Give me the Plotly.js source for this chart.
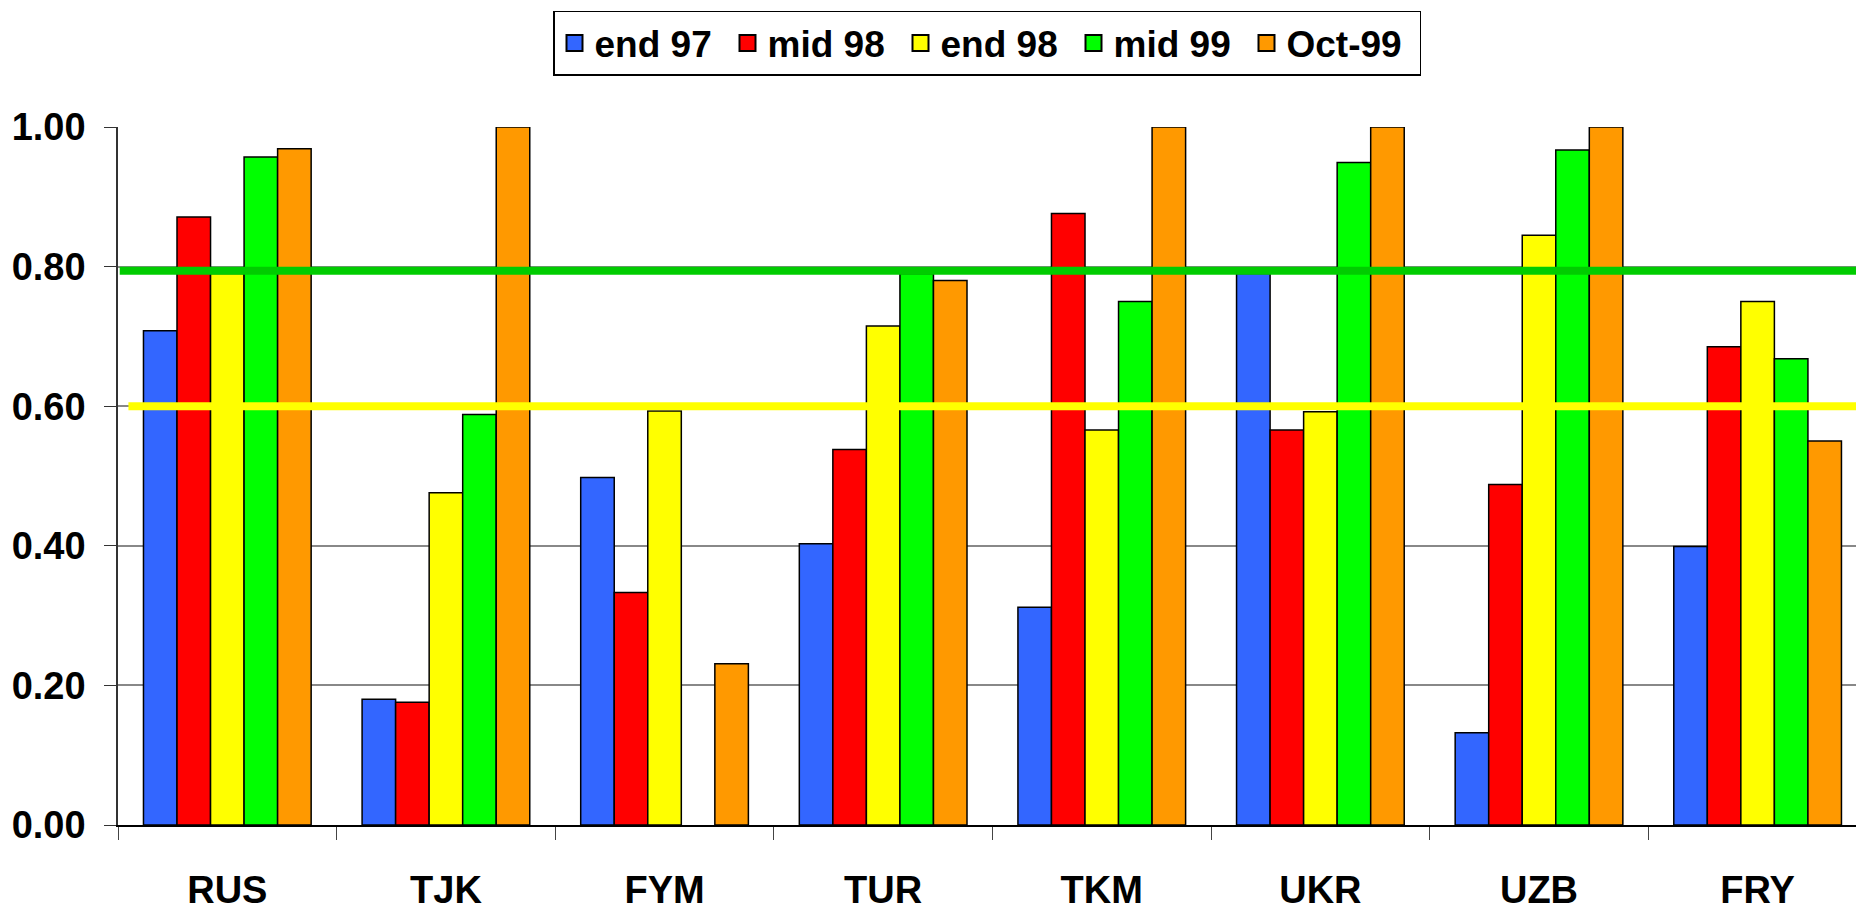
<!DOCTYPE html>
<html>
<head>
<meta charset="utf-8">
<script src="https://cdn.plot.ly/plotly-3.0.1.min.js"></script>
<style>
html,body{margin:0;padding:0;background:#fff;}
#chart{width:1856px;height:911px;}
</style>
</head>
<body>
<div id="chart"></div>
<script>
const categories = ["RUS","TJK","FYM","TUR","TKM","UKR","UZB","FRY"];
const seriesNames = ["end 97","mid 98","end 98","mid 99","Oct-99"];
const end97 = [0.708,0.180,0.498,0.403,0.312,0.790,0.132,0.399];
const mid98 = [0.871,0.176,0.333,0.538,0.876,0.566,0.488,0.685];
const end98 = [0.790,0.476,0.593,0.715,0.566,0.592,0.845,0.750];
const mid99 = [0.957,0.588,null,0.790,0.750,0.949,0.967,0.668];
const oct99 = [0.969,1.000,0.231,0.780,1.000,1.000,1.000,0.550];
const greenThreshold = 0.794;
const yellowThreshold = 0.600;
const yTicks = [0,0.2,0.4,0.6,0.8,1.0];

const colors = ["#3366FF","#FF0000","#FFFF00","#00FF00","#FF9900"];
const allSeries = [end97, mid98, end98, mid99, oct99];

const barTraces = allSeries.map((vals,i)=>({
  type:"bar",
  name:seriesNames[i],
  legendgroup:seriesNames[i],
  showlegend:false,
  x:categories,
  y:vals,
  marker:{color:colors[i], line:{color:"#000000", width:1.5}},
  hoverinfo:"x+y+name"
}));
// legend-only entries with larger square swatches
const legendTraces = seriesNames.map((n,i)=>({
  type:"scatter", mode:"markers",
  name:n, legendgroup:n, showlegend:true,
  x:[null], y:[null],
  marker:{symbol:"square", size:22, color:colors[i], line:{color:"#000", width:2}},
  hoverinfo:"skip"
}));

const fam = "Liberation Sans, Arial, sans-serif";

const layout = {
  width:1856, height:911,
  margin:{l:118, r:0, t:127, b:86, pad:0},
  paper_bgcolor:"#fff", plot_bgcolor:"#fff",
  barmode:"group", bargap:0.233, bargroupgap:0,
  font:{family:fam, size:36, color:"#000"},
  showlegend:true,
  legend:{
    orientation:"h", x:0.5, xanchor:"center", y:0.988, yref:"container", yanchor:"top",
    bordercolor:"#000", borderwidth:1.5, bgcolor:"#fff",
    font:{family:fam, size:37, color:"#000", weight:"bold"},
    itemwidth:30, itemsizing:"trace", entrywidth:128, entrywidthmode:"pixels",
    traceorder:"normal", itemclick:false, itemdoubleclick:false
  },
  xaxis:{
    type:"category", range:[-0.5,7.45],
    showline:true, linecolor:"#000", linewidth:2,
    ticks:"outside", tickson:"boundaries", ticklen:13, tickcolor:"#444", tickwidth:1.2,
    ticklabelstandoff:30,
    tickfont:{family:fam, size:38, color:"#000", weight:"bold"},
    showgrid:false, zeroline:false, fixedrange:true
  },
  yaxis:{
    range:[0,1.0], tickvals:yTicks, tickformat:".2f",
    showline:true, linecolor:"#333", linewidth:1.5,
    ticks:"outside", ticklen:12, tickcolor:"#333", tickwidth:1.2,
    ticklabelstandoff:11,
    tickfont:{family:fam, size:38, color:"#000", weight:"bold"},
    showgrid:true, gridcolor:"#888", gridwidth:1.5,
    zeroline:false, fixedrange:true
  },
  shapes:[
    {type:"line", xref:"paper", yref:"y", x0:0.001, x1:1, y0:greenThreshold, y1:greenThreshold,
     line:{color:"#00CC00", width:8}, layer:"above"},
    {type:"line", xref:"paper", yref:"y", x0:0.006, x1:1, y0:yellowThreshold, y1:yellowThreshold,
     line:{color:"#FFFF00", width:8}, layer:"above"}
  ]
};

Plotly.newPlot("chart", barTraces.concat(legendTraces), layout, {displayModeBar:false});
</script>
</body>
</html>
